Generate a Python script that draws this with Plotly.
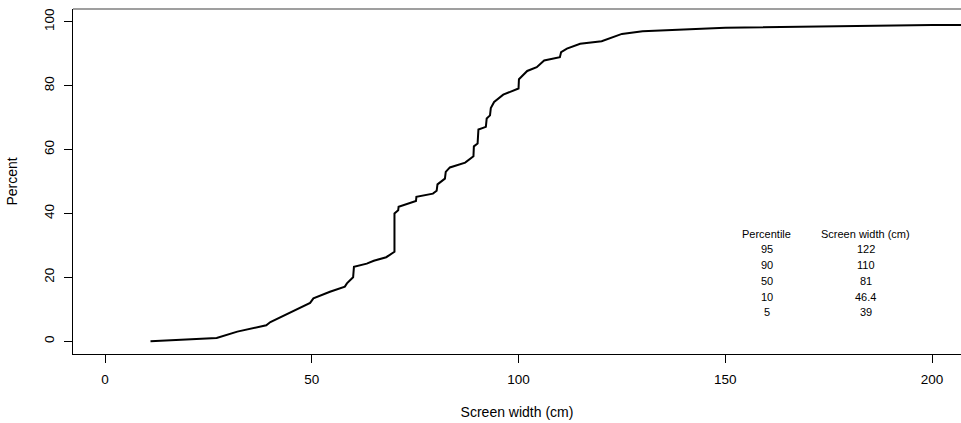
import plotly.graph_objects as go

# Cumulative distribution of screen widths
screen_width = [11, 27, 32, 39, 40, 44, 49.6, 50.4, 54.4, 58, 58.5, 60, 60.2, 63.3, 65, 68,
                70, 70, 70.9, 71, 75.2, 75.3, 79.3, 80.2, 80.4, 82.2, 82.4, 83.4, 87.1, 89.1,
                89.2, 90.1, 90.3, 92.1, 92.3, 93.1, 93.3, 94.1, 96.3, 100, 100.1, 102.1, 104.4,
                106.2, 110, 110.3, 111.7, 114.9, 120.1, 125, 130, 150, 200, 486]
percent = [0, 1, 3, 5, 6, 8.5, 12, 13.4, 15.5, 17.1, 18.1, 20, 23.3, 24.3, 25.2, 26.3,
           28, 40, 41, 42.1, 43.9, 45.2, 46.2, 47.1, 49.1, 50.9, 53, 54.4, 55.9, 57.9,
           61, 61.9, 66.3, 67.1, 69.7, 70.7, 73, 74.9, 77.2, 79.1, 82, 84.6, 85.8,
           87.9, 88.9, 90.5, 91.6, 93.1, 93.9, 96.2, 97, 98.1, 99, 100]

table_percentiles = ["95", "90", "50", "10", "5"]
table_widths = ["122", "110", "81", "46.4", "39"]

x_ticks = [0, 50, 100, 150, 200]
y_ticks = [0, 20, 40, 60, 80, 100]

FONT = "Liberation Sans, Arial, Helvetica, sans-serif"

fig = go.Figure()
fig.add_trace(go.Scatter(x=screen_width, y=percent, mode="lines",
                         line=dict(color="black", width=2), showlegend=False,
                         hoverinfo="skip"))

# Percentile table
table_x1, table_x2 = 160, 184
tfont = dict(size=11, color="black", family=FONT)
fig.add_annotation(x=table_x1, y=33.6, text="Percentile", showarrow=False,
                   xref="x", yref="y", font=tfont)
fig.add_annotation(x=table_x2, y=33.6, text="Screen width (cm)", showarrow=False,
                   xref="x", yref="y", font=tfont)
row_vals = [28.8, 23.9, 18.9, 14.0, 9.2]
for p, w, yv in zip(table_percentiles, table_widths, row_vals):
    fig.add_annotation(x=table_x1, y=yv, text=p, showarrow=False, xref="x", yref="y",
                       font=tfont)
    fig.add_annotation(x=table_x2, y=yv, text=w, showarrow=False, xref="x", yref="y",
                       font=tfont)

# top border of the box
fig.add_shape(type="line", xref="paper", yref="paper", x0=0, x1=1, y0=1, y1=1,
              line=dict(color="#7f7f7f", width=1.5))

fig.update_layout(
    width=961, height=423,
    margin=dict(l=73, r=0, t=9, b=69, autoexpand=False),
    paper_bgcolor="white", plot_bgcolor="white",
    font=dict(family=FONT, size=13.5, color="black"),
    xaxis=dict(range=[-7.74, 207.0], tickvals=x_ticks, ticks="outside", ticklen=8,
               tickcolor="black", tickwidth=1, showline=True, linecolor="black", linewidth=1,
               showgrid=False, zeroline=False, automargin=False, ticklabelstandoff=5,
               title=dict(text="Screen width (cm)", standoff=20, font=dict(size=14)),
               tickfont=dict(size=13.5)),
    yaxis=dict(range=[-4, 104], tickvals=y_ticks, ticks="outside", ticklen=8,
               tickcolor="black", tickwidth=1, showline=True, linecolor="black", linewidth=1,
               showgrid=False, zeroline=False, tickangle=-90, automargin=False,
               ticklabelstandoff=5,
               title=dict(text="Percent", standoff=20, font=dict(size=14)),
               tickfont=dict(size=13.5)),
)

fig.write_html("out.html", config={"displayModeBar": False},
               post_script="document.body.style.margin='0px';")
